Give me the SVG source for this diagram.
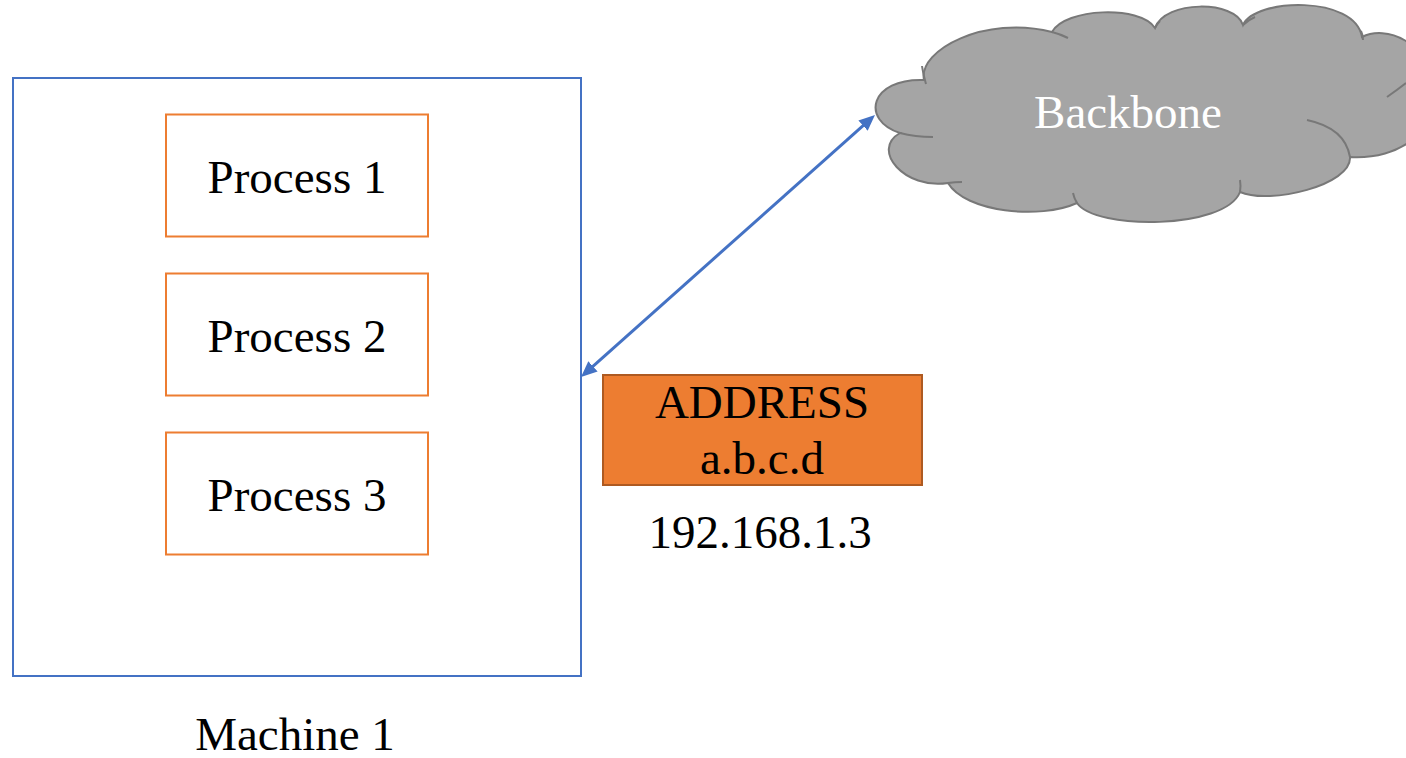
<svg xmlns="http://www.w3.org/2000/svg" width="1406" height="758" viewBox="0 0 1406 758">
<style>
  text { font-family: "Liberation Serif", "Times New Roman", serif; font-size: 47px; text-anchor: middle; fill: #000; }
  .proc { fill: #fff; stroke: #ED7D31; stroke-width: 2; }
  .machine { fill: #fff; stroke: #4472C4; stroke-width: 2; }
  .addr { fill: #ED7D31; stroke: #AE5A21; stroke-width: 2; }
  .cloud { fill: #A5A5A5; stroke: #787878; stroke-width: 2; }
  .crease { fill: none; stroke: #787878; stroke-width: 2; }
  .conn { stroke: #4472C4; stroke-width: 3; fill: none; }
</style>
<defs>
  <marker id="ah" viewBox="0 0 16 14" refX="8" refY="7" markerWidth="16" markerHeight="14" markerUnits="userSpaceOnUse" orient="auto-start-reverse">
    <path d="M0,0 L16,7 L0,14 z" fill="#4472C4"/>
  </marker>
</defs>
<rect width="1406" height="758" fill="#fff"/>

<g id="machine1">
  <rect class="machine" x="13" y="78" width="568" height="598"/>
  <text x="295" y="750">Machine 1</text>
</g>

<g id="process1">
  <rect class="proc" x="166" y="114.5" width="262" height="122"/>
  <text x="297" y="193">Process 1</text>
</g>
<g id="process2">
  <rect class="proc" x="166" y="273.5" width="262" height="122"/>
  <text x="297" y="352">Process 2</text>
</g>
<g id="process3">
  <rect class="proc" x="166" y="432.5" width="262" height="122"/>
  <text x="297" y="511">Process 3</text>
</g>

<g id="address">
  <rect class="addr" x="603" y="375" width="319" height="110"/>
  <text x="762" y="418">ADDRESS</text>
  <text x="762" y="474">a.b.c.d</text>
  <text x="760" y="548">192.168.1.3</text>
</g>

<g id="backbone">
  <path class="cloud" d="M924,80 C918,50 985,15 1052,32 C1065,8 1140,5 1155,28 C1165,0 1235,0 1243,25 C1255,-2 1355,-5 1362,37 C1385,25 1430,40 1430,90 C1440,130 1400,160 1350,157 C1352,185 1270,205 1240,192 C1225,230 1095,230 1077,203 C1040,220 965,212 948,183 C905,190 870,150 900,133 C860,120 870,78 924,80 Z"/>
  <path class="crease" d="M900,133 Q915,137 933,137"/>
  <path class="crease" d="M948,183 Q955,182 962,182"/>
  <path class="crease" d="M1077,203 Q1074,198 1073,193"/>
  <path class="crease" d="M1240,192 Q1241,186 1240,180"/>
  <path class="crease" d="M1350,157 Q1345,128 1307,120"/>
  <path class="crease" d="M1387,97 Q1397,90 1406,83"/>
  <path class="crease" d="M1361,31 Q1363,35 1363,40"/>
  <path class="crease" d="M1243,25 Q1248,20 1255,17"/>
  <path class="crease" d="M1155,28 Q1157,24 1160,21"/>
  <path class="crease" d="M1052,32 Q1060,34 1068,38"/>
  <path class="crease" d="M922,66 Q923,74 926,84"/>
  <text x="1128" y="128" style="fill:#fff">Backbone</text>
</g>

<g id="connectors">
  <line class="conn" x1="587" y1="371.7" x2="869" y2="120.3" marker-start="url(#ah)" marker-end="url(#ah)"/>
</g>
</svg>
